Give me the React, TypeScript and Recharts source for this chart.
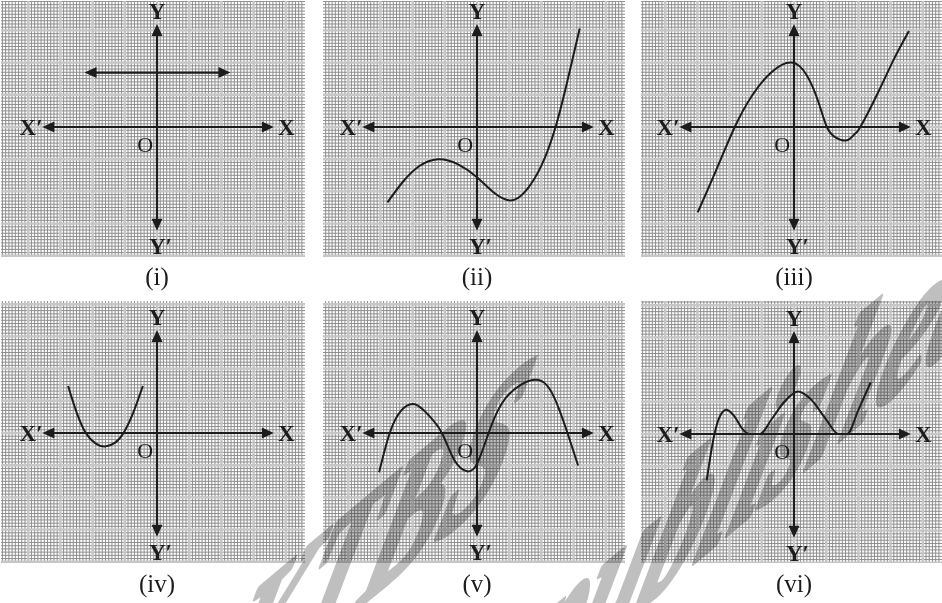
import React from 'react';
import { LineChart, Line, XAxis, YAxis, CartesianGrid, ReferenceLine, ReferenceDot } from 'recharts';

// one big square of the graph paper, in px
const UNIT = 32.2;

// curves, in big squares, O at (0, 0)
const lineI = [
    { x: -2.25, y: 1.69 },
    { x: 2.28, y: 1.69 },
];

const curveII = [
    { x: -2.78, y: -2.34 },
    { x: -2.3, y: -1.7 },
    { x: -1.8, y: -1.22 },
    { x: -1.22, y: -1.0 },
    { x: -0.6, y: -1.15 },
    { x: 0, y: -1.56 },
    { x: 0.5, y: -2.02 },
    { x: 1.03, y: -2.28 },
    { x: 1.5, y: -2.0 },
    { x: 2.0, y: -1.2 },
    { x: 2.44, y: 0 },
    { x: 2.8, y: 1.4 },
    { x: 3.19, y: 3.06 },
];

const curveIII = [
    { x: -2.99, y: -2.65 },
    { x: -2.4, y: -1.3 },
    { x: -1.84, y: 0 },
    { x: -1.3, y: 0.98 },
    { x: -0.7, y: 1.7 },
    { x: -0.07, y: 2.0 },
    { x: 0.4, y: 1.6 },
    { x: 0.75, y: 0.8 },
    { x: 1.02, y: 0 },
    { x: 1.3, y: -0.33 },
    { x: 1.65, y: -0.41 },
    { x: 1.9, y: -0.2 },
    { x: 2.06, y: 0 },
    { x: 2.6, y: 1.05 },
    { x: 3.1, y: 2.1 },
    { x: 3.57, y: 2.98 },
];

const curveIV = [
    { x: -2.76, y: 1.46 },
    { x: -2.5, y: 0.65 },
    { x: -2.21, y: 0 },
    { x: -1.9, y: -0.33 },
    { x: -1.61, y: -0.42 },
    { x: -1.3, y: -0.3 },
    { x: -1.04, y: 0 },
    { x: -0.75, y: 0.6 },
    { x: -0.44, y: 1.46 },
];

const curveV = [
    { x: -3.04, y: -1.22 },
    { x: -2.71, y: 0 },
    { x: -2.35, y: 0.7 },
    { x: -1.93, y: 0.89 },
    { x: -1.5, y: 0.55 },
    { x: -1.09, y: 0 },
    { x: -0.7, y: -0.85 },
    { x: -0.31, y: -1.19 },
    { x: 0, y: -0.96 },
    { x: 0.36, y: 0 },
    { x: 0.9, y: 1.1 },
    { x: 1.82, y: 1.65 },
    { x: 2.4, y: 1.1 },
    { x: 2.81, y: 0 },
    { x: 3.14, y: -1.01 },
];

const curveVI = [
    { x: -2.71, y: -1.44 },
    { x: -2.47, y: 0 },
    { x: -2.3, y: 0.55 },
    { x: -2.1, y: 0.75 },
    { x: -1.85, y: 0.55 },
    { x: -1.6, y: 0.15 },
    { x: -1.375, y: 0 },
    { x: -1.06, y: 0 },
    { x: -0.7, y: 0.45 },
    { x: -0.3, y: 1.0 },
    { x: 0.13, y: 1.32 },
    { x: 0.5, y: 1.1 },
    { x: 1.0, y: 0.45 },
    { x: 1.38, y: 0 },
    { x: 1.65, y: 0 },
    { x: 2.0, y: 0.75 },
    { x: 2.38, y: 1.6 },
];

const captions = ['(i)', '(ii)', '(iii)', '(iv)', '(v)', '(vi)'];
const axisNames = { x: 'X', x2: 'X\u2032', y: 'Y', y2: 'Y\u2032', o: 'O' };
const watermark = ['©KTBS', 'Not to be republished'];

// where the axes end (arrow tips), in big squares
const axisXEnds = [-3.56, 3.63];
const axisYEnds = [-3.22, 3.2];

// panel boxes on the page; ox/oy = origin inside the box
const panels = [
    { left: 1, top: 1, width: 304, height: 256, ox: 156, oy: 126, curve: null, flat: lineI },
    { left: 323, top: 1, width: 302, height: 256, ox: 154, oy: 126, curve: curveII, kind: 'natural' },
    { left: 641, top: 1, width: 301, height: 256, ox: 153, oy: 126, curve: curveIII, kind: 'natural' },
    { left: 1, top: 301, width: 304, height: 262, ox: 156, oy: 132, curve: curveIV, kind: 'natural' },
    { left: 323, top: 301, width: 302, height: 262, ox: 154, oy: 132, curve: curveV, kind: 'natural' },
    { left: 641, top: 301, width: 301, height: 262, ox: 153, oy: 133, curve: curveVI, kind: 'monotone' },
];

const INK = '#1c1c1c';
const FONT = '"Liberation Serif", "Times New Roman", serif';

const steps = (from: number, to: number, step: number) => {
    const out: number[] = [];
    for (let i = Math.ceil(from / step - 1e-9); i * step <= to + 1e-9; i++) {
        out.push(Math.round(i * step * 1000) / 1000);
    }
    return out;
};

// grid lines go through the axis scale; fall back to the plot box if the scale is missing
const gridX = (values: number[], domain: number[]) => (props: any) => {
    const scale = props?.xAxis?.scale;
    if (typeof scale === 'function') return values.map((v) => scale(v));
    const { left, width } = props.offset;
    return values.map((v) => left + ((v - domain[0]) / (domain[1] - domain[0])) * width);
};

const gridY = (values: number[], domain: number[]) => (props: any) => {
    const scale = props?.yAxis?.scale;
    if (typeof scale === 'function') return values.map((v) => scale(v));
    const { top, height } = props.offset;
    return values.map((v) => top + ((domain[1] - v) / (domain[1] - domain[0])) * height);
};

const arrowHead = (tx: number, ty: number, ux: number, uy: number) => {
    const L = 12;
    const W = 5.5;
    const bx = tx - ux * L;
    const by = ty - uy * L;
    return `${tx},${ty} ${bx - uy * W},${by + ux * W} ${bx + uy * W},${by - ux * W}`;
};

// line with a filled arrow on both ends
const DoubleArrow = (props: any) => {
    const { x1, y1, x2, y2 } = props;
    const len = Math.hypot(x2 - x1, y2 - y1) || 1;
    const ux = (x2 - x1) / len;
    const uy = (y2 - y1) / len;
    return (
        <g>
            <line
                x1={x1 + ux * 8}
                y1={y1 + uy * 8}
                x2={x2 - ux * 8}
                y2={y2 - uy * 8}
                stroke={INK}
                strokeWidth={2.2}
            />
            <polygon points={arrowHead(x2, y2, ux, uy)} fill={INK} />
            <polygon points={arrowHead(x1, y1, -ux, -uy)} fill={INK} />
        </g>
    );
};

const tag = (value: string, anchor: 'start' | 'middle' | 'end', bold: boolean, dx = 0) => (p: any) => (
    <text
        x={p.cx + dx}
        y={p.cy}
        textAnchor={anchor}
        dominantBaseline="central"
        fontFamily={FONT}
        fontSize={bold ? 23 : 22}
        fontWeight={bold ? 'bold' : 'normal'}
        fill={INK}
    >
        {value}
    </text>
);

const Panel = ({ p, layer }: { p: any; layer: 'paper' | 'ink' }) => {
    const xDomain = [-p.ox / UNIT, (p.width - p.ox) / UNIT];
    const yDomain = [-(p.height - p.oy) / UNIT, p.oy / UNIT];
    const margin = { top: 0, right: 0, bottom: 0, left: 0 };

    if (layer === 'paper') {
        return (
            <LineChart width={p.width} height={p.height} margin={margin}>
                <XAxis type="number" domain={xDomain} allowDataOverflow hide />
                <YAxis type="number" domain={yDomain} allowDataOverflow hide />
                <CartesianGrid
                    stroke="#8e8e8e"
                    strokeWidth={1}
                    fill="#ffffff"
                    verticalCoordinatesGenerator={gridX(steps(xDomain[0], xDomain[1], 0.1), xDomain)}
                    horizontalCoordinatesGenerator={gridY(steps(yDomain[0], yDomain[1], 0.1), yDomain)}
                />
                <CartesianGrid
                    stroke="#c6c6c6"
                    strokeWidth={2.4}
                    verticalCoordinatesGenerator={gridX(steps(xDomain[0], xDomain[1], 1), xDomain)}
                    horizontalCoordinatesGenerator={gridY(steps(yDomain[0], yDomain[1], 1), yDomain)}
                />
            </LineChart>
        );
    }

    return (
        <LineChart width={p.width} height={p.height} margin={margin}>
            <XAxis type="number" dataKey="x" domain={xDomain} allowDataOverflow hide />
            <YAxis type="number" domain={yDomain} allowDataOverflow hide />
            <ReferenceLine
                segment={[{ x: axisXEnds[0], y: 0 }, { x: axisXEnds[1], y: 0 }]}
                shape={DoubleArrow}
            />
            <ReferenceLine
                segment={[{ x: 0, y: axisYEnds[1] }, { x: 0, y: axisYEnds[0] }]}
                shape={DoubleArrow}
            />
            {p.flat && (
                <ReferenceLine
                    segment={[p.flat[0], p.flat[1]]}
                    shape={DoubleArrow}
                />
            )}
            {p.curve && (
                <Line
                    data={p.curve}
                    dataKey="y"
                    type={p.kind}
                    stroke={INK}
                    strokeWidth={2}
                    dot={false}
                    isAnimationActive={false}
                />
            )}
            <ReferenceDot x={3.76} y={0} r={0} shape={tag(axisNames.x, 'start', true)} />
            <ReferenceDot x={-3.55} y={0} r={0} shape={tag(axisNames.x2, 'end', true)} />
            <ReferenceDot x={0} y={3.6} r={0} shape={tag(axisNames.y, 'middle', true)} />
            <ReferenceDot x={0} y={-3.72} r={0} shape={tag(axisNames.y2, 'start', true, -8)} />
            <ReferenceDot x={-0.37} y={-0.55} r={0} shape={tag(axisNames.o, 'middle', false)} />
        </LineChart>
    );
};

export default function App() {
    return (
        <div style={{ position: 'absolute', left: 0, top: 0, width: 942, height: 603, background: '#fff', overflow: 'hidden' }}>
            {panels.map((p, i) => (
                <div key={`paper-${i}`} style={{ position: 'absolute', left: p.left, top: p.top, zIndex: 0 }}>
                    <Panel p={p} layer="paper" />
                </div>
            ))}
            <svg
                width={942}
                height={603}
                style={{ position: 'absolute', left: 0, top: 0, zIndex: 1, mixBlendMode: 'multiply', pointerEvents: 'none' }}
            >
                <g
                    fontFamily={FONT}
                    fontStyle="italic"
                    fontWeight="bold"
                    fontSize={220}
                    fill="#bfbfbf"
                    stroke="#bfbfbf"
                    strokeWidth={8}
                    strokeLinejoin="round"
                >
                    <text transform="matrix(0.536,-0.45,-0.297,0.955,498,490)" textAnchor="end">{watermark[0]}</text>
                    <text transform="matrix(0.536,-0.45,-0.297,0.955,980,322)" textAnchor="end">{watermark[1]}</text>
                </g>
            </svg>
            {panels.map((p, i) => (
                <div key={`ink-${i}`} style={{ position: 'absolute', left: p.left, top: p.top, zIndex: 2 }}>
                    <Panel p={p} layer="ink" />
                    <div
                        style={{
                            position: 'absolute',
                            left: p.ox - 50,
                            top: p.height + (i < 3 ? 6 : 7),
                            width: 100,
                            textAlign: 'center',
                            fontFamily: FONT,
                            fontSize: 25,
                            lineHeight: '28px',
                            color: INK,
                        }}
                    >
                        {captions[i]}
                    </div>
                </div>
            ))}
        </div>
    );
}
